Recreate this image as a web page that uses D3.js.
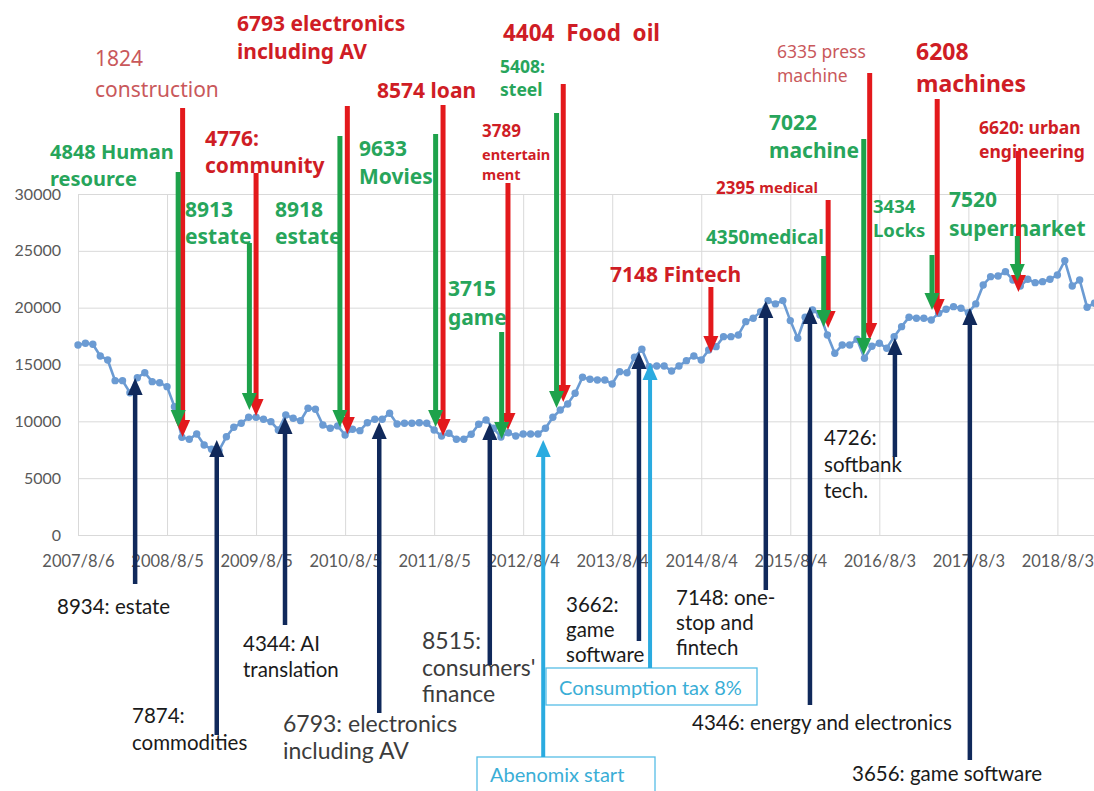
<!DOCTYPE html>
<html>
<head>
<meta charset="utf-8">
<script src="https://cdn.jsdelivr.net/npm/d3@7"></script>
<style>
  body { margin: 0; background: #fff; }
  svg { display: block; }
</style>
</head>
<body>
<div id="chart"></div>
<script>
// monthly index values, first point = 2007/8/6
var series = [
  16720, 16870, 16780, 15750, 15400, 13580, 13580, 12520, 13840, 14280, 13490, 13400, 13050,
  11290, 8600, 8420, 8890, 7920, 7540, 7420, 8650, 9480, 9830, 10360, 10360,
  10180, 9970, 9240, 10560, 10270, 10060, 11150, 11060, 9680, 9390, 9600, 8800,
  9300, 9180, 9880, 10180, 10180, 10710, 9770, 9830, 9830, 9880, 9830, 9240,
  8710, 8950, 8420, 8420, 8870, 9740, 10120, 9390, 8620, 9000, 8710, 8890,
  8890, 8890, 9390, 10360, 11000, 11530, 12470, 13880, 13700, 13640, 13640, 13290,
  14370, 14280, 15640, 16340, 14810, 14870, 14870, 14430, 14870, 15340, 15750, 15400,
  16280, 16570, 17450, 17450, 17600, 18770, 19070, 19650, 20620, 20330, 20620, 18860,
  17310, 19160, 19800, 19360, 17600, 15990, 16720, 16720, 17220, 15550, 16600, 16870,
  16430, 17450, 18330, 19160, 19070, 19070, 18920, 19510, 19860, 20090, 19950, 19560,
  20330, 22000, 22730, 22790, 23170, 22440, 21900, 22500, 22200, 22290, 22500, 22880,
  24140, 21910, 22440, 20040, 20390
];

var xTickLabels = ["2007/8/6", "2008/8/5", "2009/8/5", "2010/8/5", "2011/8/5", "2012/8/4",
                   "2013/8/4", "2014/8/4", "2015/8/4", "2016/8/3", "2017/8/3", "2018/8/3"];
var xTickIdx = [0, 12, 24, 36, 48, 60, 72, 84, 96, 108, 120, 132];
var yTicks = [0, 5000, 10000, 15000, 20000, 25000, 30000];

// arrows pointing down onto the line (at = month index, tip = value)
var downNotes = [
  {at: 14.1,  tip: 8620,  kind: "redLight", text: ["1824", "construction"]},
  {at: 24.0,  tip: 10470, kind: "red",   text: ["4776:", "community"]},
  {at: 36.3,  tip: 8890,  kind: "red",   text: ["6793 electronics", "including AV"]},
  {at: 49.2,  tip: 8710,  kind: "red",   text: ["8574 loan"]},
  {at: 57.95, tip: 9240,  kind: "red",   text: ["3789", "entertain", "ment"]},
  {at: 65.4,  tip: 11700, kind: "red",   text: ["4404  Food  oil"]},
  {at: 85.3,  tip: 16020, kind: "red",   text: ["7148 Fintech"]},
  {at: 101.1, tip: 18220, kind: "red",   text: [["2395 ", "medical"]]},
  {at: 106.7, tip: 17160, kind: "redLight", text: ["6335 press", "machine"]},
  {at: 115.8, tip: 19270, kind: "red",   text: ["6208", "machines"]},
  {at: 126.75, tip: 21380, kind: "red",  text: ["6620: urban", "engineering"]},
  {at: 13.5,  tip: 9500,  kind: "green", text: ["4848 Human", "resource"]},
  {at: 23.1,  tip: 11000, kind: "green", text: ["8913", "estate"]},
  {at: 35.3,  tip: 9500,  kind: "green", text: ["8918", "estate"]},
  {at: 48.2,  tip: 9500,  kind: "green", text: ["9633", "Movies"]},
  {at: 57.1,  tip: 8450,  kind: "green", text: ["3715", "game"]},
  {at: 64.5,  tip: 11180, kind: "green", text: ["5408:", "steel"]},
  {at: 100.5, tip: 18300, kind: "green", text: ["4350medical"]},
  {at: 105.9, tip: 15840, kind: "green", text: ["7022", "machine"]},
  {at: 115.1, tip: 19800, kind: "green", text: ["3434", "Locks"]},
  {at: 126.6, tip: 22350, kind: "green", text: ["7520", "supermarket"]}
];
var downLayout = [
  {top: 108, tx: 95,  ty: [58, 89],  fs: 21, fw: 400},
  {top: 173, tx: 205, ty: [138, 165], fs: 21, fw: 700},
  {top: 106, tx: 237, ty: [23, 51],  fs: 21, fw: 700},
  {top: 105, tx: 377, ty: [90],      fs: 21, fw: 700},
  {top: 183, tx: 482, ty: [130, 154, 174], fs: [17, 14.5, 14.5], fw: 700},
  {top: 84,  tx: 503, ty: [32],      fs: 22.5, fw: 700},
  {top: 287, tx: 610, ty: [274],     fs: 21, fw: 700},
  {top: 200, tx: 716, ty: [187],     fs: [[17, 15]], fw: 700},
  {top: 73,  tx: 777, ty: [51, 75],  fs: 17.5, fw: 400},
  {top: 99,  tx: 916, ty: [51, 83],  fs: 23, fw: 700},
  {top: 151, tx: 979, ty: [127, 151], fs: 17.5, fw: 700},
  {top: 172, tx: 50,  ty: [151, 178], fs: 20, fw: 700},
  {top: 243, tx: 185, ty: [209, 236], fs: 21, fw: 700},
  {top: 136, tx: 275, ty: [209, 236], fs: 21, fw: 700},
  {top: 134, tx: 359, ty: [148, 176], fs: 21, fw: 700},
  {top: 332, tx: 448, ty: [288, 317], fs: 21, fw: 700},
  {top: 113, tx: 500, ty: [66, 89],  fs: 17.5, fw: 700},
  {top: 256, tx: 706, ty: [237],     fs: 19, fw: 700},
  {top: 139, tx: 769, ty: [122, 150], fs: 21, fw: 700},
  {top: 255, tx: 873, ty: [205, 229], fs: 18.5, fw: 700},
  {top: 236, tx: 949, ty: [199, 228], fs: 21, fw: 700}
];

// arrows pointing up from below
var upNotes = [
  {at: 7.7,   tip: 13820, kind: "navy", text: ["8934: estate"]},
  {at: 18.7,  tip: 8360,  kind: "navy", text: ["7874:", "commodities"]},
  {at: 27.9,  tip: 10380, kind: "navy", text: ["4344: AI", "translation"]},
  {at: 40.6,  tip: 9940,  kind: "navy", text: ["6793: electronics", "including AV"]},
  {at: 55.5,  tip: 9850,  kind: "navy", text: ["8515:", "consumers'", "finance"]},
  {at: 62.7,  tip: 8360,  kind: "blue", text: ["Abenomix start"]},
  {at: 75.6,  tip: 16100, kind: "navy", text: ["3662:", "game", "software"]},
  {at: 77.1,  tip: 15140, kind: "blue", text: ["Consumption tax 8%"]},
  {at: 92.7,  tip: 20590, kind: "navy", text: ["7148: one-", "stop and", "fintech"]},
  {at: 98.65, tip: 20060, kind: "navy", text: ["4346: energy and electronics"]},
  {at: 110.1, tip: 17340, kind: "navy", text: ["4726:", "softbank", "tech."]},
  {at: 120.2, tip: 19970, kind: "navy", text: ["3656: game software"]}
];
var upLayout = [
  {bottom: 584, tx: 57,  ty: [606], fs: 20.5},
  {bottom: 735, tx: 132, ty: [715, 742], fs: 20.5},
  {bottom: 625, tx: 243, ty: [643, 669], fs: 20.5},
  {bottom: 713, tx: 283, ty: [723, 750], fs: 23, grey: true},
  {bottom: 665, tx: 422, ty: [640, 667, 693], fs: 23, grey: true},
  {bottom: 757, tx: 490, ty: [774], fs: 20, box: [477, 757, 178, 40]},
  {bottom: 641, tx: 566, ty: [604, 629, 654], fs: 20.5},
  {bottom: 668, tx: 559, ty: [687], fs: 20, box: [546, 668, 211, 37]},
  {bottom: 590, tx: 676, ty: [597, 622, 647], fs: 20.5},
  {bottom: 705, tx: 692, ty: [722], fs: 20.5},
  {bottom: 457, tx: 824, ty: [437, 464, 490], fs: 20.5},
  {bottom: 760, tx: 852, ty: [773], fs: 20.5}
];

var colors = {
  red: "#e3191c", redText: "#cf1d25", redLight: "#c9585b",
  green: "#1ea24b", greenText: "#27a55b",
  navy: "#10295b", blue: "#2aabe0", blueText: "#3aaed6",
  line: "#6b9bd3", grid: "#d9d9d9", axisText: "#595959"
};
var boldFont = "'Noto Sans', 'Open Sans', sans-serif";
var calFont = "Lato, 'Open Sans', sans-serif";

var width = 1094, height = 791;

var svg = d3.select("#chart").append("svg")
  .attr("width", width)
  .attr("height", height);

svg.append("rect").attr("width", width).attr("height", height).attr("fill", "#fff");

var x = d3.scaleLinear().domain([0, 137]).range([78, 1094.5]);
var y = d3.scaleLinear().domain([0, 30000]).range([535, 194]);

// y axis + horizontal grid
var yAxis = svg.append("g")
  .attr("transform", "translate(78,0)")
  .call(d3.axisLeft(y).tickValues(yTicks).tickFormat(d3.format("d"))
    .tickSize(-(width - 78)).tickPadding(17));
yAxis.select(".domain").remove();
yAxis.selectAll("line").attr("stroke", colors.grid).attr("stroke-width", 1);
yAxis.selectAll("text")
  .attr("fill", colors.axisText)
  .style("font-family", calFont)
  .style("font-size", "16px");

// x axis + vertical grid
var xAxis = svg.append("g")
  .attr("transform", "translate(0,535)")
  .call(d3.axisBottom(x).tickValues(xTickIdx)
    .tickFormat(function(d, i) { return xTickLabels[i]; })
    .tickSize(-(535 - 194)));
xAxis.select(".domain").remove();
xAxis.selectAll("line").attr("stroke", colors.grid).attr("stroke-width", 1);
xAxis.selectAll("text")
  .attr("y", 26)
  .attr("dy", "0.35em")
  .attr("fill", colors.axisText)
  .style("font-family", calFont)
  .style("font-size", "16.5px");

// the line
svg.append("path")
  .datum(series)
  .attr("fill", "none")
  .attr("stroke", colors.line)
  .attr("stroke-width", 2.6)
  .attr("d", d3.line()
    .x(function(d, i) { return x(i); })
    .y(function(d) { return y(d); }));

svg.append("g")
  .selectAll("circle")
  .data(series)
  .enter()
  .append("circle")
    .attr("cx", function(d, i) { return x(i); })
    .attr("cy", function(d) { return y(d); })
    .attr("r", 3.7)
    .attr("fill", colors.line);

function drawLabel(lines, lay, color, family, weight) {
  lines.forEach(function(ln, k) {
    var t = svg.append("text")
      .attr("x", lay.tx)
      .attr("y", lay.ty[k])
      .attr("dominant-baseline", "central")
      .attr("fill", color)
      .style("font-family", family)
      .style("font-weight", weight)
      .style("white-space", "pre");
    var segs = Array.isArray(ln) ? ln : [ln];
    var size = Array.isArray(lay.fs) ? lay.fs[k] : lay.fs;
    segs.forEach(function(s, j) {
      t.append("tspan")
        .style("font-size", (Array.isArray(size) ? size[j] : size) + "px")
        .text(s);
    });
  });
}

function arrow(xp, fromY, tipY, color, w, hw, hl) {
  var dir = fromY < tipY ? 1 : -1;   // 1 = pointing down
  svg.append("line")
    .attr("x1", xp).attr("x2", xp)
    .attr("y1", fromY).attr("y2", tipY - dir * (hl - 2))
    .attr("stroke", color)
    .attr("stroke-width", w);
  svg.append("path")
    .attr("d", "M" + xp + "," + tipY +
               "L" + (xp - hw) + "," + (tipY - dir * hl) +
               "L" + (xp + hw) + "," + (tipY - dir * hl) + "Z")
    .attr("fill", color);
}

// labels for the top notes
downNotes.forEach(function(n, i) {
  var lay = downLayout[i];
  var c = n.kind === "green" ? colors.greenText : (n.kind === "red" ? colors.redText : colors.redLight);
  drawLabel(n.text, lay, c, boldFont, lay.fw);
});

// labels for the bottom notes
upNotes.forEach(function(n, i) {
  var lay = upLayout[i];
  if (lay.box) {
    svg.append("rect")
      .attr("x", lay.box[0]).attr("y", lay.box[1])
      .attr("width", lay.box[2]).attr("height", lay.box[3])
      .attr("fill", "#fff")
      .attr("stroke", "#56bde6")
      .attr("stroke-width", 1.3);
  }
  var c = n.kind === "blue" ? colors.blueText : (lay.grey ? "#3c3c3c" : "#1a1a1a");
  drawLabel(n.text, lay, c, calFont, 400);
});

// down arrows: reds first, greens on top
downNotes.forEach(function(n, i) {
  if (n.kind === "green") return;
  arrow(x(n.at), downLayout[i].top, y(n.tip), colors.red, 5, 7.5, 17);
});
downNotes.forEach(function(n, i) {
  if (n.kind !== "green") return;
  arrow(x(n.at), downLayout[i].top, y(n.tip), colors.green, 5, 7.5, 17);
});

// up arrows
upNotes.forEach(function(n, i) {
  var c = n.kind === "blue" ? colors.blue : colors.navy;
  arrow(x(n.at), upLayout[i].bottom, y(n.tip), c, n.kind === "blue" ? 4 : 4.5, 7.5, 17);
});
</script>
</body>
</html>
